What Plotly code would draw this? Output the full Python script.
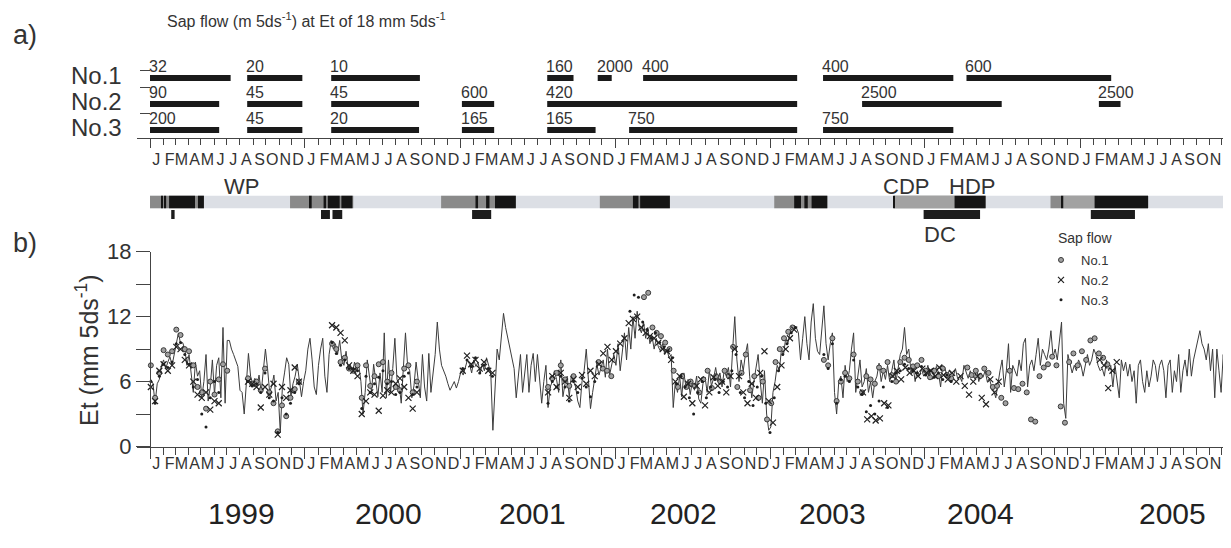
import pandas as pd
import plotly.graph_objects as go

# ------------------------------------------------------------------ data
years = [1999, 2000, 2001, 2002, 2003, 2004, 2005]
month_letters = ["J", "F", "M", "A", "M", "J", "J", "A", "S", "O", "N", "D"]
tree_names = ["No.1", "No.2", "No.3"]
year_labels = ["1999", "2000", "2001", "2002", "2003", "2004", "2005"]

# panel a: sap-flow measurement periods with calibration values
no1_start = ["1999-01-01", "1999-08-18", "2000-03-03", "2001-07-25", "2001-11-21", "2002-03-08", "2003-05-06", "2004-04-08"]
no1_end = ["1999-07-10", "1999-12-26", "2000-09-28", "2001-09-25", "2001-12-24", "2003-03-06", "2004-03-08", "2005-03-15"]
no1_label = ["32", "20", "10", "160", "2000", "400", "400", "600"]
no2_start = ["1999-01-01", "1999-08-18", "2000-03-03", "2001-01-05", "2001-07-25", "2003-08-06", "2005-02-14"]
no2_end = ["1999-06-13", "1999-12-26", "2000-09-26", "2001-03-22", "2003-03-06", "2004-06-30", "2005-04-06"]
no2_label = ["90", "45", "45", "600", "420", "2500", "2500"]
no3_start = ["1999-01-01", "1999-08-18", "2000-03-03", "2001-01-05", "2001-07-25", "2002-02-03", "2003-05-06"]
no3_end = ["1999-06-13", "1999-12-26", "2000-09-26", "2001-03-22", "2001-11-16", "2003-03-06", "2004-03-08"]
no3_label = ["200", "45", "20", "165", "165", "750", "750"]

# phenology strip
band_start = ["1999-01-01"]
band_end = ["2006-01-01"]
season_start = ["1999-01-01", "1999-11-27", "2000-11-17", "2001-11-26", "2003-01-11", "2003-10-21", "2004-10-23", "2005-12-08"]
season_end = ["1999-05-08", "2000-04-24", "2001-05-12", "2002-05-10", "2003-05-16", "2004-05-23", "2005-06-10", "2006-01-01"]
cdp_start = ["2003-10-21", "2004-11-22"]
cdp_end = ["2004-03-11", "2005-02-04"]
hdp_start = ["1999-01-28", "1999-02-05", "1999-02-15", "1999-04-24", "2000-01-13", "2000-02-14", "2000-02-24", "2000-03-27",
             "2001-02-06", "2001-03-03", "2001-03-24", "2002-02-12", "2002-03-01", "2003-02-27", "2003-03-23", "2003-04-09",
             "2003-10-18", "2004-03-11", "2004-11-19", "2005-02-04"]
hdp_end = ["1999-01-30", "1999-02-08", "1999-04-17", "1999-05-08", "2000-01-17", "2000-02-20", "2000-03-23", "2000-04-22",
           "2001-02-12", "2001-03-11", "2001-05-12", "2002-02-25", "2002-05-10", "2003-03-15", "2003-03-31", "2003-05-16",
           "2003-10-21", "2004-05-23", "2004-11-22", "2005-06-10"]
dc_start = ["1999-02-20", "2000-02-08", "2000-03-06", "2001-01-29", "2003-12-29", "2005-01-26"]
dc_end = ["1999-02-28", "2000-02-29", "2000-03-29", "2001-03-15", "2004-05-10", "2005-05-10"]

# panel b: 5-day Et (mm 5d-1), one list per year
et_1999 = [6.2, 5.8, 4.0, 5.8, 6.2, 7.5, 8.0, 7.2, 7.8, 8.3, 7.5, 8.5, 9.5, 10.5, 9.5, 9.6, 9.0, 7.5, 8.5, 7.0,
           5.0, 7.8, 6.5, 7.0, 4.5, 6.0, 8.5, 4.2, 5.5, 8.0, 4.8, 7.5, 8.2, 4.5, 11.0, 4.0, 9.8, 9.8, 9.0, 8.5,
           8.0, 7.4, 5.2, 5.0, 3.0, 5.5, 8.6, 6.5, 5.8, 6.3, 5.6, 6.6, 5.0, 7.0, 9.0, 7.2, 5.0, 5.6, 6.6, 4.2,
           5.0, 1.3, 5.5, 6.8, 8.2, 7.6, 4.6, 5.8, 6.5, 7.6, 6.2, 4.6, 6.0]
et_2000 = [7.0, 9.0, 10.0, 8.0, 5.5, 4.8, 7.5, 9.0, 10.0, 6.5, 5.0, 8.5, 9.8, 9.0, 9.5, 8.5, 9.8, 8.0, 7.5, 8.8,
           7.2, 7.6, 6.8, 7.8, 7.0, 7.5, 6.0, 3.0, 5.0, 8.0, 6.2, 5.0, 7.6, 6.0, 4.6, 6.8, 5.0, 10.5, 4.5, 8.0,
           5.0, 7.2, 10.0, 6.2, 5.8, 4.0, 7.0, 10.5, 7.5, 7.0, 4.5, 5.6, 7.8, 6.0, 4.5, 8.5, 5.5, 4.2, 8.6, 5.0,
           7.0, 8.5, 11.5, 9.0, 7.5, 7.0, 6.5, 5.8, 5.2, 5.6, 6.0, 5.4, 6.0]
et_2001 = [7.0, 6.6, 7.3, 8.0, 7.6, 6.8, 8.0, 7.4, 7.8, 6.8, 7.6, 7.0, 8.2, 7.6, 6.8, 1.5, 6.0, 9.0, 8.0, 10.5,
           12.3, 11.0, 10.0, 9.0, 8.0, 7.2, 4.5, 6.5, 8.5, 5.0, 7.0, 8.5, 5.0, 7.5, 8.6, 6.0, 8.5, 6.5, 4.0, 6.0,
           7.5, 3.6, 5.5, 6.0, 7.0, 6.2, 5.0, 8.0, 4.6, 5.8, 6.5, 4.6, 6.6, 6.0, 5.5, 4.2, 3.6, 6.0, 7.0, 9.0,
           6.0, 3.5, 5.0, 6.5, 7.6, 6.6, 7.2, 8.0, 6.4, 9.0, 6.6, 7.5, 8.5]
et_2002 = [7.5, 9.5, 7.0, 8.5, 10.5, 8.0, 11.0, 9.0, 12.0, 10.0, 12.5, 11.0, 10.5, 11.5, 10.0, 11.0, 9.5, 10.2, 9.0, 10.0,
           9.2, 8.8, 9.5, 8.5, 9.0, 8.2, 8.5, 3.6, 6.0, 5.0, 6.5, 4.6, 6.8, 5.5, 6.2, 4.8, 6.0, 5.2, 6.5, 4.4,
           4.0, 5.8, 6.4, 5.0, 7.0, 5.6, 6.3, 7.3, 6.0, 6.8, 5.5, 7.0, 6.5, 7.3, 5.5, 9.0, 12.0, 8.0, 6.0, 8.0,
           7.0, 8.5, 9.5, 6.5, 4.5, 6.0, 7.5, 8.5, 6.0, 4.0, 7.0, 3.0, 1.5]
et_2003 = [1.8, 5.0, 6.0, 7.5, 7.0, 9.0, 8.5, 10.0, 9.5, 10.5, 11.0, 11.2, 11.0, 10.5, 8.0, 10.0, 12.0, 9.5, 8.0, 11.5,
           13.2, 10.0, 8.8, 8.5, 10.5, 13.0, 9.5, 8.0, 9.5, 10.5, 5.0, 3.0, 6.0, 6.5, 4.5, 7.5, 6.0, 7.0, 9.0, 10.5,
           5.0, 6.5, 8.0, 5.5, 6.0, 7.2, 5.0, 6.0, 4.5, 6.0, 6.5, 7.7, 6.0, 7.0, 6.2, 7.5, 6.0, 7.0, 8.0, 6.0,
           7.2, 8.5, 9.0, 11.0, 8.5, 9.0, 7.0, 7.5, 6.0, 7.0, 6.5, 7.2, 6.5]
et_2004 = [6.8, 7.5, 6.5, 7.2, 6.5, 7.4, 6.8, 5.5, 7.5, 7.3, 6.5, 7.0, 6.8, 6.5, 7.2, 6.3, 6.5, 6.0, 7.5, 6.8,
           6.3, 7.0, 6.5, 6.3, 7.2, 6.0, 6.8, 6.4, 7.0, 6.0, 6.3, 5.5, 5.2, 4.5, 6.0, 7.0, 8.0, 5.5, 7.0, 9.5,
           5.0, 7.5, 7.0, 6.5, 8.0, 7.0, 9.5, 10.0, 5.5, 7.5, 8.0, 7.0, 8.5, 10.0, 7.5, 9.0, 8.5, 8.0, 9.0, 10.7,
           8.3, 9.0, 8.0, 10.0, 11.5, 4.0, 2.6, 8.5, 7.5, 6.8, 7.5, 7.0, 8.0]
et_2005 = [7.5, 6.5, 7.5, 8.5, 7.5, 8.0, 9.0, 8.5, 7.5, 7.0, 7.2, 6.5, 8.0, 7.0, 7.5, 5.5, 7.5, 6.0, 4.5, 8.0,
           7.0, 7.8, 6.5, 7.6, 6.0, 7.0, 4.0, 7.5, 8.0, 6.0, 5.0, 7.0, 5.5, 6.5, 8.0, 7.5, 6.0, 7.5, 8.0, 7.0,
           4.5, 7.5, 8.0, 5.0, 7.0, 6.0, 8.5, 5.0, 7.0, 8.0, 6.5, 9.0, 6.5, 8.0, 9.0, 10.0, 10.7, 9.5, 9.0, 8.0,
           9.5, 7.0, 9.0, 4.5, 9.0, 7.0, 5.0, 8.5, 6.0, 3.0, 5.0, 6.0, 4.5]
et_by_year = [et_1999, et_2000, et_2001, et_2002, et_2003, et_2004, et_2005]

# panel b: sap flow scaled to Et (10-day samples from each start date)
sap1_start = ["1999-01-03", "1999-08-20", "2000-03-05", "2001-07-27", "2001-11-23", "2002-03-10", "2003-05-08", "2004-04-10"]
sap1_vals = [
    [7.5, 4.5, 6.8, 8.9, 8.5, 8.8, 10.8, 10.3, 9.0, 8.8, 7.5, 5.5, 5.0, 3.5, 6.0, 4.8, 6.2, 7.6, 7.0],
    [6.3, 5.8, 6.0, 5.2, 7.2, 5.0, 4.0, 1.4, 3.8, 2.8, 4.5, 5.3, 6.0],
    [9.5, 9.0, 7.8, 8.2, 7.2, 7.0, 7.5, 4.5, 7.5, 5.6, 6.5, 7.6, 7.8, 6.0, 6.8, 5.5, 5.2, 7.2, 7.5, 5.0, 6.0],
    [5.5, 6.3, 6.8, 7.5, 6.2, 5.6, 6.5],
    [7.8, 7.2, 7.0, 6.5],
    [13.8, 14.2, 11.0, 10.5, 10.2, 9.6, 9.0, 7.0, 5.5, 6.5, 5.5, 6.0, 5.6, 5.0, 6.2, 7.0, 5.4, 6.5, 6.0, 7.0,
     6.5, 9.2, 5.5, 6.8, 8.5, 5.2, 6.5, 4.5, 6.0, 2.5, 4.0, 7.8, 9.0, 10.0, 10.6, 11.0],
    [8.0, 7.5, 10.0, 4.2, 6.0, 6.8, 6.3, 8.5, 6.0, 5.0, 6.5, 6.2, 5.8, 7.3, 7.0, 7.8, 6.6, 6.0, 7.8, 8.2,
     8.0, 7.4, 7.5, 8.0, 7.0, 6.4, 7.0, 6.5, 7.2, 6.6, 6.3],
    [7.3, 6.6, 7.0, 6.5, 7.2, 6.8, 5.5, 5.6, 4.5, 4.0, 7.0, 5.4, 5.3, 5.8, 5.0, 2.5, 2.3, 6.5, 7.3, 7.6,
     8.3, 7.5, 3.7, 2.2, 7.8, 8.6, 7.5, 8.8, 8.0, 9.8, 10.0, 8.6, 8.2, 7.6],
]
sap2_start = ["1999-01-03", "1999-08-20", "2000-03-05", "2001-01-07", "2001-07-27", "2003-08-08", "2005-02-16"]
sap2_vals = [
    [5.5, 4.2, 7.0, 7.6, 7.0, 7.5, 9.2, 9.0, 8.0, 7.5, 6.0, 4.8, 4.5, 5.0, 3.4, 4.2, 4.0],
    [6.0, 5.8, 5.5, 3.6, 5.5, 4.8, 5.8, 1.1, 5.5, 4.5, 5.2, 7.3, 6.0],
    [11.2, 11.0, 10.5, 9.8, 7.5, 7.0, 6.5, 3.0, 4.2, 5.0, 4.8, 3.3, 4.7, 5.2, 5.0, 5.8, 6.3, 5.5, 4.5, 3.5, 5.0],
    [7.0, 8.4, 7.6, 8.0, 7.2, 7.8, 7.0, 6.8],
    [5.0, 6.5, 5.5, 6.8, 6.0, 4.5, 6.2, 5.5, 6.6, 5.8, 7.0, 6.5, 7.6, 8.6, 9.2, 8.0, 8.8, 9.5, 10.0, 11.4,
     11.8, 12.0, 11.0, 10.5, 10.2, 10.0, 9.6, 9.0, 8.8, 8.0, 6.0, 6.5, 4.6, 5.8, 4.0, 5.6, 6.2, 3.8, 5.0, 6.4,
     5.6, 6.0, 5.0, 6.5, 9.0, 6.5, 5.0, 4.0, 5.8, 4.5, 6.8, 8.8, 4.2, 2.2, 5.5, 7.5, 9.0, 10.0, 10.8],
    [5.0, 2.5, 2.8, 2.4, 2.6, 4.0, 3.8, 6.5, 7.0, 6.2, 7.3, 6.8, 7.0, 6.5, 7.2, 6.8, 7.0, 6.5, 7.3, 6.6,
     6.2, 6.8, 6.0, 6.5, 5.6, 4.8, 6.0, 6.5, 4.5, 3.9, 6.2, 5.0, 6.0],
    [8.0, 7.5, 5.4, 7.0, 7.8],
]
sap3_start = ["1999-01-03", "1999-08-20", "2000-03-05", "2001-01-07", "2001-07-27", "2002-02-05", "2003-05-08"]
sap3_vals = [
    [6.0, 4.0, 6.5, 7.6, 7.3, 7.8, 9.5, 9.6, 8.5, 7.6, 5.5, 6.2, 3.0, 1.8, 4.5, 6.0, 5.0],
    [6.0, 5.6, 5.8, 5.0, 6.8, 4.5, 4.2, 1.3, 4.5, 3.0, 4.0, 5.0, 5.8],
    [9.6, 8.6, 7.5, 8.0, 7.2, 7.2, 7.0, 3.5, 6.5, 5.0, 5.8, 6.4, 7.0, 5.8, 6.0, 4.8, 5.0, 6.5, 6.8, 4.8, 5.5],
    [7.2, 8.0, 7.4, 8.2, 6.8, 7.5, 7.2, 6.5],
    [4.0, 6.0, 5.5, 6.5, 5.5, 4.2, 6.0, 5.0, 6.3, 5.5, 4.6, 6.0],
    [12.5, 14.0, 13.8, 11.5, 10.8, 10.0, 10.5, 9.6, 9.2, 8.8, 8.2, 5.8, 6.5, 5.5, 4.5, 3.0, 5.0, 6.0, 4.5, 5.5,
     6.2, 5.0, 6.0, 5.5, 7.0, 8.5, 5.0, 4.5, 6.0, 3.8, 5.5, 6.5, 4.0, 1.3, 4.5, 7.0, 8.5, 9.5, 10.5, 11.0],
    [8.5, 7.2, 9.5, 4.0, 6.2, 6.5, 6.0, 8.0, 5.5, 4.8, 3.2, 3.8, 3.0, 4.2, 5.5, 3.6, 6.0, 6.8, 7.0, 7.6,
     7.2, 7.0, 6.8, 7.4, 6.6, 7.0, 6.4, 6.8, 6.2, 6.6, 6.0],
]

# ------------------------------------------------------------------ layout helpers
W, H = 1231, 548
OFF = 8  # the page body adds an 8 px margin; place everything relative to the window
FONT = "Liberation Sans, Arial, Helvetica, sans-serif"
TXT = "#333333"
AX = "#444444"


def fy(py):
    return 1 - (py - OFF) / H


def fx(px):
    return (px - OFF) / W


X0 = pd.Timestamp("1999-01-01")
PX_PER_DAY = 155 / 365.25
left_px, axis_px, right_px = 137, 150, W + OFF
r0 = X0 - pd.Timedelta(days=(axis_px - left_px) / PX_PER_DAY)
r1 = X0 + pd.Timedelta(days=(right_px - axis_px) / PX_PER_DAY)
xr = [r0.strftime("%Y-%m-%d %H:%M"), r1.strftime("%Y-%m-%d %H:%M")]


def hbar(starts, ends, yval, thick, color, xa, ya):
    s = pd.to_datetime(pd.Series(starts))
    e = pd.to_datetime(pd.Series(ends))
    dur = ((e - s).dt.total_seconds() * 1000).tolist()
    return go.Bar(orientation="h", base=s.dt.strftime("%Y-%m-%d").tolist(), x=dur,
                  y=[yval] * len(starts), width=thick,
                  marker=dict(color=color, line=dict(width=0)),
                  xaxis=xa, yaxis=ya, showlegend=False, hoverinfo="skip")


fig = go.Figure()

# ---- phenology strip (y3)
STRIP_Y, DC_Y = 20, 7.5
fig.add_trace(hbar(band_start, band_end, STRIP_Y, 12.5, "#dcdfe5", "x3", "y3"))
fig.add_trace(hbar(season_start, season_end, STRIP_Y, 12.5, "#8a8a8a", "x3", "y3"))
fig.add_trace(hbar(cdp_start, cdp_end, STRIP_Y, 12.5, "#a2a2a2", "x3", "y3"))
fig.add_trace(hbar(hdp_start, hdp_end, STRIP_Y, 12.5, "#151515", "x3", "y3"))
fig.add_trace(hbar(dc_start, dc_end, DC_Y, 9, "#1c1c1c", "x3", "y3"))

# ---- panel a bars (y2)
row_y = [60, 34, 8]
rows = [(no1_start, no1_end, no1_label), (no2_start, no2_end, no2_label), (no3_start, no3_end, no3_label)]
annotations = []
for i, (st, en, lb) in enumerate(rows):
    fig.add_trace(hbar(st, en, row_y[i], 6, "#1a1a1a", "x2", "y2"))
    for s, t in zip(st, lb):
        annotations.append(dict(x=s, y=row_y[i] + 12, xref="x2", yref="y2", text=t, showarrow=False,
                                xanchor="left", yanchor="middle", xshift=-3,
                                font=dict(family=FONT, size=16, color=TXT)))
    annotations.append(dict(x=fx(124), y=row_y[i] + 3, xref="paper", yref="y2", text=tree_names[i],
                            showarrow=False, xanchor="right", yanchor="middle",
                            font=dict(family=FONT, size=24, color=TXT)))

# ---- panel b
et_x, et_y = [], []
for yr, vals in zip(years, et_by_year):
    d = pd.date_range(f"{yr}-01-03", periods=len(vals), freq="5D")
    et_x += [t.strftime("%Y-%m-%d") for t in d]
    et_y += vals
fig.add_trace(go.Scatter(x=et_x, y=et_y, mode="lines", line=dict(color="#3c3c3c", width=1),
                         xaxis="x", yaxis="y", showlegend=False, hoverinfo="skip"))


def sap_xy(starts, vals_list):
    xs, ys = [], []
    for s, vals in zip(starts, vals_list):
        d = pd.date_range(s, periods=len(vals), freq="10D")
        xs += [t.strftime("%Y-%m-%d") for t in d]
        ys += vals
    return xs, ys


x1, y1 = sap_xy(sap1_start, sap1_vals)
x2, y2 = sap_xy(sap2_start, sap2_vals)
x3, y3 = sap_xy(sap3_start, sap3_vals)
fig.add_trace(go.Scatter(x=x1, y=y1, mode="markers", name=tree_names[0], xaxis="x", yaxis="y",
                         marker=dict(symbol="circle", size=5, color="#a0a0a0", line=dict(color="#3a3a3a", width=1))))
fig.add_trace(go.Scatter(x=x2, y=y2, mode="markers", name=tree_names[1], xaxis="x", yaxis="y",
                         marker=dict(symbol="x-thin", size=6, color="#222222", line=dict(color="#222222", width=1.2))))
fig.add_trace(go.Scatter(x=x3, y=y3, mode="markers", name=tree_names[2], xaxis="x", yaxis="y",
                         marker=dict(symbol="circle", size=3, color="#1e1e1e")))

# dummy traces so the label-only axes are drawn
fig.add_trace(go.Scatter(x=[et_x[0]], y=[1], mode="markers", marker=dict(opacity=0), xaxis="x4", yaxis="y",
                         showlegend=False, hoverinfo="skip"))
fig.add_trace(go.Scatter(x=[et_x[0]], y=[1], mode="markers", marker=dict(opacity=0), xaxis="x5", yaxis="y2",
                         showlegend=False, hoverinfo="skip"))

# ---- axes
months = pd.date_range("1999-01-01", "2005-12-01", freq="MS")
mid_vals = [(m + pd.Timedelta(days=15)).strftime("%Y-%m-%d") for m in months]
mid_text = [month_letters[m.month - 1] for m in months]
year_ticks = [f"{y}-01-01" for y in years] + ["2006-01-01"]
xdom = [fx(left_px), 1]


def tick_axis(anchor, major_len, minor_len):
    return dict(type="date", range=xr, domain=xdom, anchor=anchor, showgrid=False, zeroline=False,
                automargin=False,
                showline=True, linecolor=AX, linewidth=1, tickmode="array", tickvals=year_ticks,
                ticks="outside", ticklen=major_len, tickwidth=1, tickcolor=AX, showticklabels=False,
                minor=dict(ticks="outside", ticklen=minor_len, dtick="M1", tick0="1999-01-01",
                           tickcolor=AX, tickwidth=1, showgrid=False))


def label_axis(over, anchor, pad):
    return dict(type="date", range=xr, overlaying=over, anchor=anchor, showgrid=False, zeroline=False,
                automargin=False, showline=False, tickmode="array", tickvals=mid_vals, ticktext=mid_text,
                tickangle=0, ticks="outside", ticklen=pad, tickcolor="rgba(0,0,0,0)",
                tickfont=dict(family=FONT, size=16, color=TXT))


year_px = [241, 388, 532, 683, 832, 980, 1172]
for t, px in zip(year_labels, year_px):
    annotations.append(dict(x=fx(px), y=fy(513), xref="paper", yref="paper", text=t, showarrow=False,
                            xanchor="center", yanchor="middle", font=dict(family=FONT, size=30, color="#222")))


def ptext(px, py, text, size, **kw):
    d = dict(x=fx(px), y=fy(py), xref="paper", yref="paper", showarrow=False, text=text,
             xanchor=kw.pop("xanchor", "center"), yanchor="middle",
             font=dict(family=FONT, size=size, color=TXT))
    d.update(kw)
    return d


annotations += [
    ptext(165, 20, "Sap flow (m 5ds<sup>-1</sup>) at Et of 18 mm 5ds<sup>-1</sup>", 16, xanchor="left"),
    ptext(11, 35, "a)", 27, xanchor="left"),
    ptext(11, 243, "b)", 27, xanchor="left"),
    ptext(241, 186, "WP", 22),
    ptext(906, 186, "CDP", 22),
    ptext(972, 186, "HDP", 22),
    ptext(940, 235, "DC", 22),
    ptext(87, 350, "Et (mm 5ds<sup>-1</sup>)", 25, textangle=-90),
    ptext(1056, 238, "Sap flow", 14, xanchor="left"),
]

fig.update_layout(
    width=W, height=H, autosize=False,
    margin=dict(l=0, r=0, t=0, b=0, pad=0),
    paper_bgcolor="white", plot_bgcolor="rgba(0,0,0,0)",
    barmode="overlay",
    font=dict(family=FONT, color=TXT),
    xaxis=tick_axis("y", 11, 7),
    xaxis2=tick_axis("y2", 9, 6),
    xaxis3=dict(type="date", range=xr, domain=xdom, anchor="y3", visible=False, automargin=False),
    xaxis4=label_axis("x", "y", 2),
    xaxis5=label_axis("x2", "y2", 7),
    yaxis=dict(domain=[fy(446.5), fy(251.7)], range=[0, 18], anchor="free", position=fx(axis_px),
               automargin=False,
               showline=True, linecolor=AX, linewidth=1, showgrid=False, zeroline=False,
               tickmode="array", tickvals=[0, 6, 12, 18], ticks="outside", ticklen=14,
               tickcolor=AX, tickfont=dict(family=FONT, size=22, color=TXT),
               minor=dict(ticks="outside", ticklen=14, dtick=3, tick0=0, tickcolor=AX, showgrid=False)),
    yaxis2=dict(domain=[fy(138), fy(60)], range=[0, 78], anchor="free", position=fx(axis_px),
                automargin=False,
                showline=False, showgrid=False, zeroline=False, tickmode="array", tickvals=[68, 51, 25],
                ticks="outside", ticklen=10, tickcolor=AX, showticklabels=False),
    yaxis3=dict(domain=[fy(222), fy(192)], range=[0, 30], anchor="x3", visible=False, automargin=False),
    legend=dict(x=fx(1041), y=fy(245), xanchor="left", yanchor="top", bgcolor="rgba(0,0,0,0)",
                font=dict(family=FONT, size=13, color=TXT), itemsizing="trace", tracegroupgap=0),
    annotations=annotations,
    showlegend=True,
)

fig.write_html("out.html")
